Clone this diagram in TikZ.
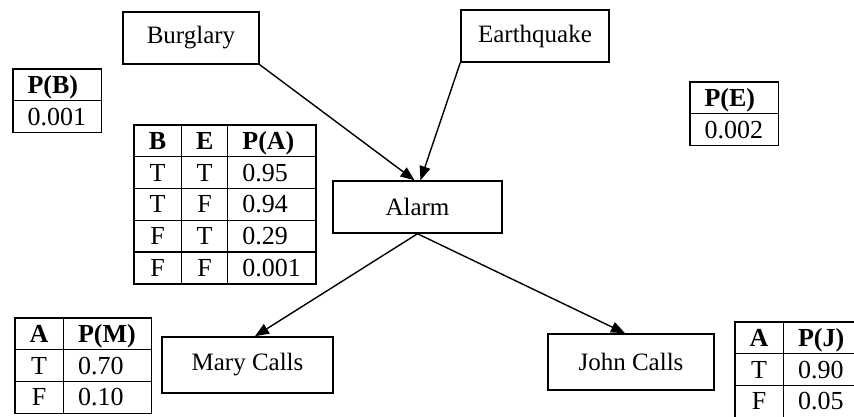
\documentclass[tikz,border=0pt]{standalone}
\usepackage{fontspec}
\setmainfont{Liberation Serif}
\usepackage{array}
\usetikzlibrary{arrows.meta}

\newcolumntype{C}[1]{>{\centering\arraybackslash}p{#1}}
\newcolumntype{L}[1]{>{\raggedright\arraybackslash}p{#1}}
\setlength{\arrayrulewidth}{1.4pt}
\setlength{\tabcolsep}{14pt}
\setlength{\extrarowheight}{8.4pt}

\begin{document}
\begin{tikzpicture}[
            x=1pt, y=1pt,
            var/.style={
                draw,
                line width=1.5pt,
                minimum height=52pt,
                font=\fontsize{25}{25}\selectfont
            },
            cpt/.style={
                inner sep=0pt,
                anchor=north west,
                font=\fontsize{26}{22}\selectfont
            },
            link/.style={
                -{Triangle[length=14pt,width=11pt]},
                line width=1.4pt
            }
        ]

            \useasboundingbox (0,0) rectangle (854,417);
            \clip (0,0) rectangle (854,417);

            % --- Variables ---
            \node[var, minimum width=136pt] (burglary) at (191,379) {Burglary};
            \node[var, minimum width=148pt] (quake) at (535,381) {Earthquake};
            \node[var, minimum width=169pt] (alarm) at (417.5,210) {Alarm};
            \node[var, minimum width=171pt, minimum height=56pt] (mary) at (247.5,52) {Mary Calls};
            \node[var, minimum width=166pt, minimum height=56pt] (john) at (631,55) {John Calls};

            % --- Links ---
            \draw[link] (burglary.south east) -- ([xshift=-3pt]alarm.north);
            \draw[link] (quake.south west) -- ([xshift=3pt]alarm.north);
            \draw[link] (alarm.south) -- ([xshift=7.5pt]mary.north);
            \draw[link] (alarm.south) -- ([xshift=-6pt]john.north);

            % --- Priors ---
            \node[cpt] (cptB) at (12,349) {%
                \begin{tabular}{|L{59pt}|}
                    \hline
                    \textbf{P(B)} \\ \hline
                    0.001 \\ \hline
                \end{tabular}};
            \node[cpt] (cptE) at (689,336) {%
                \begin{tabular}{|L{59pt}|}
                    \hline
                    \textbf{P(E)} \\ \hline
                    0.002 \\ \hline
                \end{tabular}};

            % --- Conditional tables ---
            \node[cpt] (cptA) at (133,293) {%
                \begin{tabular}{|C{18pt}|C{17pt}|L{59pt}|}
                    \hline
                    \textbf{B} & \textbf{E} & \textbf{P(A)} \\ \hline
                    T & T & 0.95 \\ \hline
                    T & F & 0.94 \\ \hline
                    F & T & 0.29 \\ \hline
                    F & F & 0.001 \\ \hline
                \end{tabular}};
            \node[cpt] (cptM) at (14,100) {%
                \begin{tabular}{|C{19pt}|L{59pt}|}
                    \hline
                    \textbf{A} & \textbf{P(M)} \\ \hline
                    T & 0.70 \\ \hline
                    F & 0.10 \\ \hline
                \end{tabular}};
            \node[cpt] (cptJ) at (734,96) {%
                \begin{tabular}{|C{19pt}|L{59pt}|}
                    \hline
                    \textbf{A} & \textbf{P(J)} \\ \hline
                    T & 0.90 \\ \hline
                    F & 0.05 \\ \hline
                \end{tabular}};
        \end{tikzpicture}
\end{document}
